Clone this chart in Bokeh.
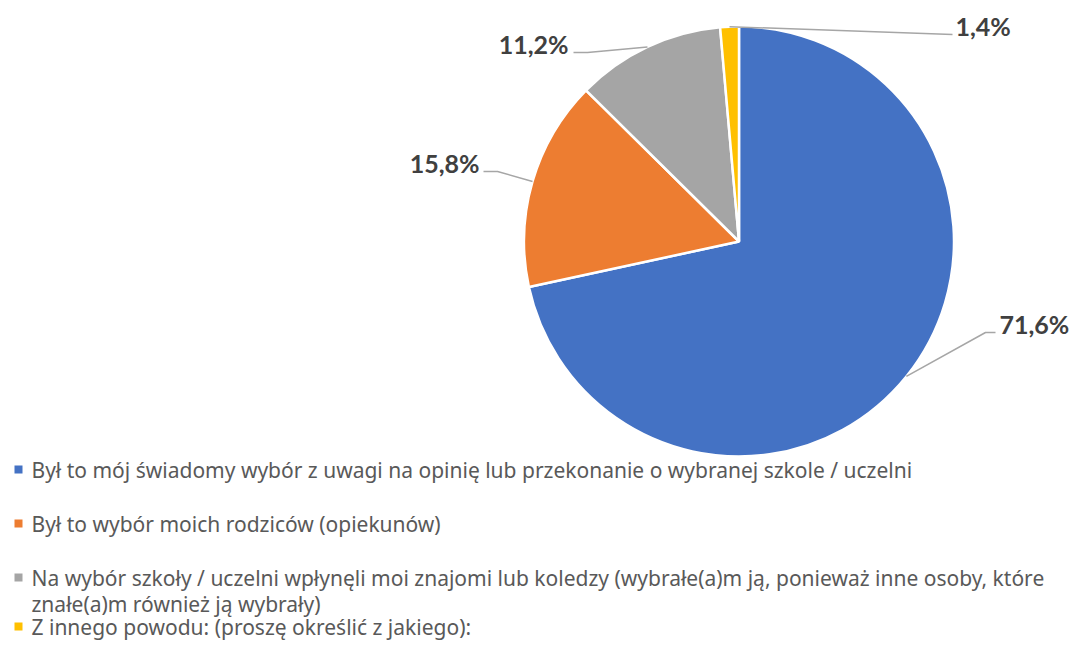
import math
from bokeh.plotting import figure
from bokeh.models import Range1d
from bokeh.core.properties import value
from bokeh.embed import file_html
from bokeh.resources import INLINE

# ---- data ----
categories = [
    "Był to mój świadomy wybór z uwagi na opinię lub przekonanie o wybranej szkole / uczelni",
    "Był to wybór moich rodziców (opiekunów)",
    "Na wybór szkoły / uczelni wpłynęli moi znajomi lub koledzy (wybrałe(a)m ją, ponieważ inne osoby, które\nznałe(a)m również ją wybrały)",
    "Z innego powodu: (proszę określić z jakiego):",
]
shares = [71.6, 15.8, 11.2, 1.4]
colors = ["#4472C4", "#ED7D31", "#A5A5A5", "#FFC000"]

# ---- layout (screen pixel space) ----
W, H = 1075, 641
def Y(ys):  # screen y -> data y (up)
    return 657 - ys

cx, cy, R = 738.5, 241.0, 215.0

label_elbow = [(985, 332), (497, 171), (587, 52), (952, 34)]
label_tail = [(995, 332), (483, 171), (573, 52), (952, 34)]
label_text = [(999, 323, "left"), (479, 162, "right"), (568, 43, "right"), (955, 25, "left")]

p = figure(width=W, height=H, x_range=Range1d(0, W), y_range=Range1d(657 - H, 657),
           output_backend="svg", toolbar_location=None, min_border=0)
p.axis.visible = False
p.grid.visible = False
p.outline_line_color = None
p.background_fill_color = "white"

total = sum(shares)
start = math.pi / 2
starts, ends, mids = [], [], []
for v in shares:
    a = v / total * 2 * math.pi
    starts.append(start)
    ends.append(start - a)
    mids.append(start - a / 2)
    start -= a

p.wedge(x=[cx] * 4, y=[Y(cy)] * 4, radius=R, start_angle=starts, end_angle=ends,
        direction="clock", fill_color=colors, line_color="white", line_width=2.5)

for i, v in enumerate(shares):
    ax = cx + R * math.cos(mids[i])
    ay = cy - R * math.sin(mids[i])
    ex, ey = label_elbow[i]
    tx, ty = label_tail[i]
    p.line([ax, ex, tx], [Y(ay), Y(ey), Y(ty)], line_color="#A6A6A6", line_width=1.5)
    lx, ly, al = label_text[i]
    txt = f"{v:.1f}".replace(".", ",") + "%"
    p.text(x=[lx], y=[Y(ly)], text=[txt], text_align=al, text_baseline="middle",
           text_font=value("Lato"), text_font_style="bold", text_font_size="25px",
           text_color="#404040")

# legend
leg_rows = [469, 523, 577, 603, 626]
row_of = [0, 1, 2, 4]
p.scatter(x=[18] * 4, y=[Y(leg_rows[r]) for r in row_of], marker="square", size=8,
          fill_color=colors, line_color=None)
for i, c in enumerate(categories):
    lines = c.split("\n")
    for j, ln in enumerate(lines):
        p.text(x=[31], y=[Y(leg_rows[row_of[i] + j])], text=[ln], text_align="left",
               text_baseline="middle", text_font=value("Noto Sans"), text_font_size="21px",
               text_color="#595959")

open("out.html", "w").write(file_html(p, INLINE))
